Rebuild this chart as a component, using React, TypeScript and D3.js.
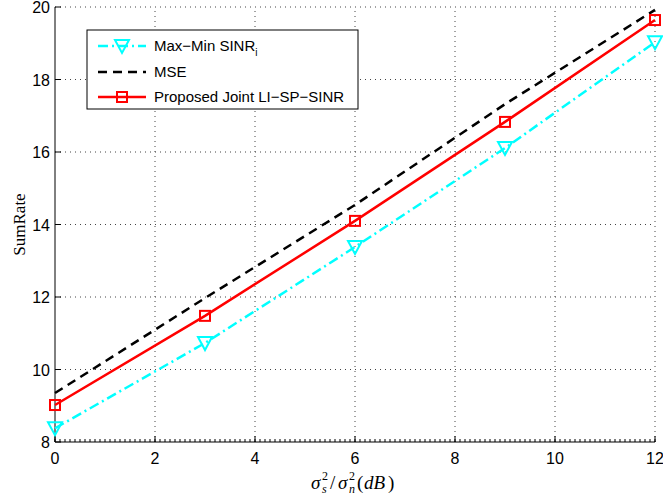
import React, { useRef, useEffect } from 'react';
import * as d3 from 'd3';

const xValues = [0, 3, 6, 9, 12];
const maxMinSinr = [8.38, 10.73, 13.38, 16.11, 19.03];
const mse = [9.35, 11.97, 14.54, 17.32, 19.92];
const proposed = [9.02, 11.48, 14.1, 16.83, 19.64];
const xTicks = [0, 2, 4, 6, 8, 10, 12];
const yTicks = [8, 10, 12, 14, 16, 18, 20];

const App = () => {
  const svgRef = useRef<SVGSVGElement>(null);

  useEffect(() => {
    const width = 663;
    const height = 499;
    const margin = { left: 55, right: 8, top: 7, bottom: 57 };

    const svg = d3.select(svgRef.current);
    svg.selectAll("*").remove();
    svg.attr("width", width).attr("height", height)
      .style("font-family", "Liberation Sans, Arial, sans-serif");

    const x = d3.scaleLinear().domain([0, 12]).range([margin.left, width - margin.right]);
    const y = d3.scaleLinear().domain([8, 20]).range([height - margin.bottom, margin.top]);

    // grid
    const grid = svg.append("g").attr("stroke", "#444").attr("stroke-width", 1)
      .attr("stroke-dasharray", "1,4");
    grid.selectAll("line.vx").data(xTicks.slice(1)).join("line")
      .attr("x1", d => x(d)).attr("x2", d => x(d))
      .attr("y1", y(8)).attr("y2", y(20));
    grid.selectAll("line.hy").data(yTicks.slice(1)).join("line")
      .attr("x1", x(0)).attr("x2", x(12))
      .attr("y1", d => y(d)).attr("y2", d => y(d));

    // axes
    const ax = svg.append("g").attr("stroke", "#000").attr("stroke-width", 1);
    ax.append("line").attr("x1", x(0)).attr("x2", x(12)).attr("y1", y(8)).attr("y2", y(8));
    ax.append("line").attr("x1", x(0)).attr("x2", x(0)).attr("y1", y(8)).attr("y2", y(20));
    ax.selectAll("line.minor").data(d3.range(0, 12.001, 0.1)).join("line")
      .attr("x1", d => x(d)).attr("x2", d => x(d))
      .attr("y1", y(8)).attr("y2", y(8) - 3);
    ax.selectAll("line.xt").data(xTicks).join("line")
      .attr("x1", d => x(d)).attr("x2", d => x(d))
      .attr("y1", y(8)).attr("y2", y(8) - 6);
    ax.selectAll("line.yt").data(yTicks).join("line")
      .attr("x1", x(0)).attr("x2", x(0) + 6)
      .attr("y1", d => y(d)).attr("y2", d => y(d));

    svg.append("g").selectAll("text").data(xTicks).join("text")
      .attr("x", d => x(d)).attr("y", y(8) + 22)
      .attr("text-anchor", "middle").style("font-size", "16px")
      .text(d => d);
    svg.append("g").selectAll("text").data(yTicks).join("text")
      .attr("x", x(0) - 5).attr("y", d => Math.max(y(d) + 6, 13))
      .attr("text-anchor", "end").style("font-size", "16px")
      .text(d => d);

    // axis titles
    svg.append("text")
      .attr("transform", `translate(25,${(y(8) + y(20)) / 2}) rotate(-90)`)
      .attr("text-anchor", "middle")
      .style("font-family", "Liberation Serif, Times New Roman, serif")
      .style("font-size", "17px")
      .text("SumRate");

    const serif = "Liberation Serif, Times New Roman, serif";
    const xl = svg.append("g").style("font-family", serif);
    const bx = 311;
    const by = 489;
    const part = (dx: number, dy: number, txt: string, size: number, italic: boolean) =>
      xl.append("text").attr("x", bx + dx).attr("y", by + dy)
        .style("font-size", `${size}px`).style("font-style", italic ? "italic" : "normal")
        .text(txt);
    part(0, 0, "σ", 19, true);
    part(11, -9, "2", 12, false);
    part(11, 4, "s", 12, true);
    part(19, 0, "/", 19, false);
    part(27, 0, "σ", 19, true);
    part(38, -9, "2", 12, false);
    part(38, 4, "n", 12, true);
    part(46, 0, "(", 19, false);
    part(53, 0, "dB", 19, true);
    part(77, 0, ")", 19, false);

    const line = d3.line<number>().x((d, i) => x(xValues[i])).y(d => y(d));

    // series
    svg.append("path").datum(mse).attr("d", line).attr("fill", "none")
      .attr("stroke", "#000").attr("stroke-width", 2.5).attr("stroke-dasharray", "9,6");

    svg.append("path").datum(maxMinSinr).attr("d", line).attr("fill", "none")
      .attr("stroke", "#00ffff").attr("stroke-width", 2.5).attr("stroke-dasharray", "10,4,2,4");

    svg.append("path").datum(proposed).attr("d", line).attr("fill", "none")
      .attr("stroke", "#ff0000").attr("stroke-width", 2.5);

    const tri = (cx: number, cy: number) =>
      `M${cx - 7},${cy - 6}L${cx + 7},${cy - 6}L${cx},${cy + 7}Z`;

    svg.append("g").selectAll("path").data(maxMinSinr).join("path")
      .attr("d", (d, i) => tri(x(xValues[i]), y(d)))
      .attr("fill", "none").attr("stroke", "#00ffff").attr("stroke-width", 2);

    svg.append("g").selectAll("rect").data(proposed).join("rect")
      .attr("x", (d, i) => x(xValues[i]) - 5).attr("y", d => y(d) - 5)
      .attr("width", 10).attr("height", 10)
      .attr("fill", "none").attr("stroke", "#ff0000").attr("stroke-width", 2);

    // legend
    const lg = svg.append("g");
    lg.append("rect").attr("x", 87).attr("y", 30).attr("width", 271).attr("height", 79)
      .attr("fill", "#fff").attr("stroke", "#000").attr("stroke-width", 1);

    const rows = [46, 72, 97];
    lg.append("line").attr("x1", 98).attr("x2", 146).attr("y1", rows[0]).attr("y2", rows[0])
      .attr("stroke", "#00ffff").attr("stroke-width", 2.5).attr("stroke-dasharray", "10,4,2,4");
    lg.append("path").attr("d", tri(122, rows[0])).attr("fill", "none")
      .attr("stroke", "#00ffff").attr("stroke-width", 2);
    lg.append("line").attr("x1", 98).attr("x2", 146).attr("y1", rows[1]).attr("y2", rows[1])
      .attr("stroke", "#000").attr("stroke-width", 2.5).attr("stroke-dasharray", "9,6");
    lg.append("line").attr("x1", 98).attr("x2", 146).attr("y1", rows[2]).attr("y2", rows[2])
      .attr("stroke", "#ff0000").attr("stroke-width", 2.5);
    lg.append("rect").attr("x", 117).attr("y", rows[2] - 5).attr("width", 10).attr("height", 10)
      .attr("fill", "none").attr("stroke", "#ff0000").attr("stroke-width", 2);

    const t0 = lg.append("text").attr("x", 154).attr("y", rows[0] + 5).style("font-size", "15px");
    t0.append("tspan").text("Max−Min SINR");
    t0.append("tspan").attr("dy", 5).style("font-size", "10px").text("i");
    lg.append("text").attr("x", 154).attr("y", rows[1] + 5).style("font-size", "15px").text("MSE");
    lg.append("text").attr("x", 154).attr("y", rows[2] + 5).style("font-size", "15px")
      .text("Proposed Joint LI−SP−SINR");
  }, []);

  return <svg ref={svgRef} style={{ position: "absolute", left: 0, top: 0 }} />;
};

export default App;
